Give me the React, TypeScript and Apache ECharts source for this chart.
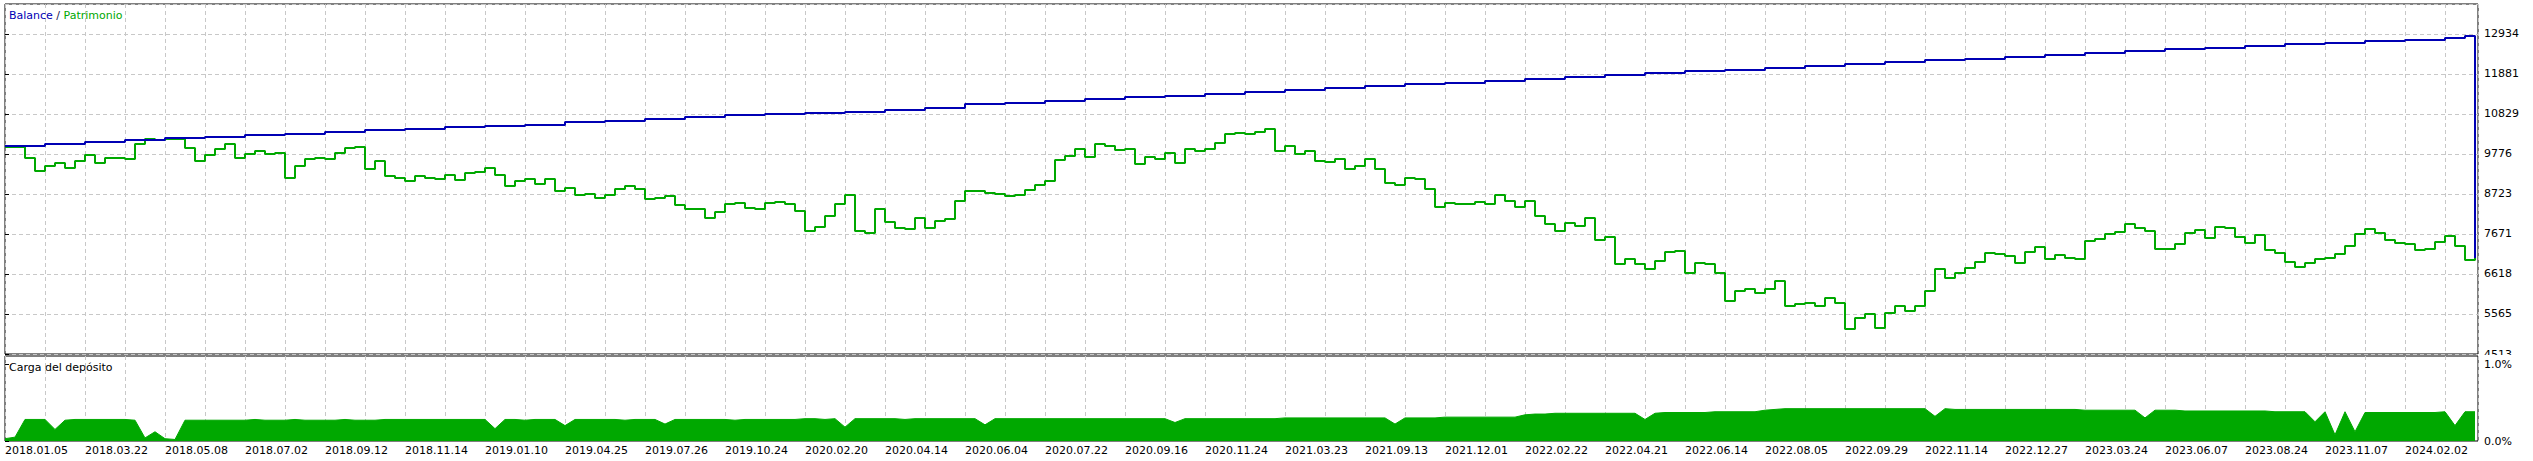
import React, { useEffect, useRef } from "react";
import * as echarts from "echarts";

// X tick labels (one every 8 samples)
const dateLabels = [
  "2018.01.05", "2018.03.22", "2018.05.08", "2018.07.02", "2018.09.12", "2018.11.14",
  "2019.01.10", "2019.04.25", "2019.07.26", "2019.10.24", "2020.02.20", "2020.04.14",
  "2020.06.04", "2020.07.22", "2020.09.16", "2020.11.24", "2021.03.23", "2021.09.13",
  "2021.12.01", "2022.02.22", "2022.04.21", "2022.06.14", "2022.08.05", "2022.09.29",
  "2022.11.14", "2022.12.27", "2023.03.24", "2023.06.07", "2023.08.24", "2023.11.07",
  "2024.02.02",
];

// Right axis ticks of the main panel
const yTickStart = 4512.75;
const yTickStep = 1052.625;
const yAxisMax = 13723.2;

// Equity (Patrimonio), one sample per position
const equity = [
  9960, 9960, 9671, 9329, 9460, 9539, 9408, 9592, 9750, 9539, 9671, 9671, 9644, 10039, 10171, 10144, 10171, 10171, 9934, 9592, 9750, 9907, 10039, 9671, 9776, 9855, 9776, 9802, 9144, 9460, 9644,
  9671, 9644, 9802, 9934, 9960, 9381, 9592, 9197, 9144, 9065, 9197, 9144, 9118, 9223, 9092, 9276, 9302, 9408, 9223, 8934, 9065, 9118, 8987, 9118, 8802, 8881, 8697, 8723, 8618, 8697, 8855,
  8934, 8855, 8592, 8618, 8671, 8434, 8329, 8329, 8092, 8250, 8460, 8487, 8355, 8329, 8487, 8513, 8460, 8276, 7750, 7855, 8144, 8460, 8697, 7750, 7697, 8329, 7986, 7829, 7802, 8092, 7829,
  8013, 8065, 8539, 8802, 8802, 8750, 8723, 8671, 8697, 8829, 8960, 9065, 9618, 9723, 9907, 9697, 10039, 9986, 9881, 9907, 9513, 9697, 9644, 9802, 9539, 9907, 9855, 9907, 10065, 10302, 10329,
  10302, 10355, 10434, 9855, 9986, 9776, 9855, 9592, 9565, 9644, 9381, 9460, 9644, 9381, 9013, 8960, 9144, 9118, 8855, 8381, 8487, 8460, 8460, 8513, 8460, 8697, 8539, 8381, 8539, 8144, 7934,
  7750, 7960, 7881, 8092, 7513, 7592, 6881, 7013, 6881, 6750, 6960, 7197, 7223, 6644, 6907, 6881, 6644, 5907, 6170, 6223, 6118, 6223, 6434, 5776, 5828, 5855, 5776, 5986, 5855, 5170, 5460,
  5565, 5197, 5592, 5776, 5644, 5776, 6170, 6750, 6513, 6644, 6776, 6934, 7171, 7144, 7092, 6907, 7197, 7329, 7013, 7118, 7039, 7013, 7487, 7539, 7671, 7723, 7934, 7829, 7750, 7276, 7276,
  7407, 7697, 7776, 7565, 7855, 7829, 7592, 7434, 7644, 7250, 7171, 6934, 6802, 6907, 7013, 7039, 7144, 7355, 7671, 7802, 7697, 7513, 7434, 7407, 7250, 7276, 7460, 7618, 7355, 6986, 7039,
];

// Balance, read at sample positions listed in balancePos
const balancePos = [
  0, 4, 8, 12, 16, 20, 24, 28, 32, 36, 40, 44, 48, 52, 56, 60, 64, 68, 72, 76, 80, 84, 88, 92, 96, 100,
  104, 108, 112, 116, 120, 124, 128, 132, 136, 140, 144, 148, 152, 156, 160, 164, 168, 172, 176, 180,
  184, 188, 192, 196, 200, 204, 208, 212, 216, 220, 224, 228, 232, 236, 240, 244, 246, 247,
];
const balance = [
  9986, 10039, 10092, 10144, 10197, 10223, 10276, 10302, 10355, 10407, 10434, 10486, 10513, 10539, 10618, 10644,
  10697, 10750, 10802, 10828, 10855, 10881, 10934, 10986, 11092, 11118, 11171, 11223, 11276, 11302, 11355, 11407,
  11460, 11513, 11565, 11618, 11644, 11697, 11750, 11802, 11855, 11907, 11960, 11986, 12039, 12092, 12144, 12197,
  12250, 12276, 12328, 12381, 12434, 12486, 12539, 12565, 12618, 12671, 12697, 12750, 12776, 12828, 12881, 7039,
];

// Deposit load (%)
const loadPct = [
  0.03, 0.05, 0.28, 0.28, 0.28, 0.15, 0.27, 0.28, 0.28, 0.28, 0.28, 0.28, 0.28, 0.27, 0.04, 0.12, 0.03, 0.02,
  0.27, 0.27, 0.27, 0.27, 0.27, 0.27, 0.27, 0.28, 0.27, 0.27, 0.27, 0.28, 0.27, 0.27, 0.27, 0.27, 0.28, 0.27, 0.27, 0.27, 0.28, 0.28, 0.28, 0.28, 0.28, 0.28, 0.28, 0.28, 0.28, 0.28,
  0.28, 0.16, 0.28, 0.28, 0.27, 0.28, 0.28, 0.28, 0.20, 0.28, 0.28, 0.28, 0.28, 0.28, 0.27, 0.28, 0.28, 0.28, 0.22, 0.28, 0.28, 0.28, 0.28, 0.28, 0.28, 0.27, 0.28, 0.28, 0.28, 0.28, 0.28, 0.28,
  0.29, 0.29, 0.28, 0.29, 0.18, 0.29, 0.29, 0.29, 0.29, 0.29, 0.28, 0.29, 0.29, 0.29, 0.29, 0.29, 0.29, 0.29, 0.21, 0.29, 0.29, 0.29, 0.29, 0.29, 0.29, 0.29, 0.29, 0.29, 0.29, 0.29, 0.29, 0.29, 0.29, 0.29, 0.29, 0.29, 0.29, 0.24, 0.29, 0.29, 0.29, 0.29, 0.29, 0.29, 0.29, 0.29, 0.29, 0.29,
  0.30, 0.30, 0.30, 0.30, 0.30, 0.30, 0.30, 0.30, 0.30, 0.30, 0.30, 0.22, 0.30, 0.30, 0.30, 0.30, 0.31, 0.31, 0.31, 0.31, 0.31, 0.31, 0.31, 0.31,
  0.34, 0.35, 0.35, 0.36, 0.36, 0.36, 0.36, 0.36, 0.36, 0.36, 0.36, 0.36, 0.28, 0.36, 0.37, 0.37, 0.37, 0.37, 0.37, 0.38, 0.38, 0.38, 0.38, 0.38,
  0.40, 0.41, 0.42, 0.42, 0.42, 0.42, 0.42, 0.42, 0.42, 0.42, 0.42, 0.42, 0.42, 0.42, 0.42, 0.42, 0.42, 0.32, 0.42, 0.41, 0.41, 0.41, 0.41, 0.41, 0.41, 0.41, 0.41, 0.41, 0.41, 0.41, 0.41, 0.41,
  0.40, 0.40, 0.40, 0.40, 0.40, 0.40, 0.30, 0.40, 0.40, 0.40, 0.39, 0.39, 0.39, 0.39, 0.39, 0.39, 0.39, 0.39, 0.39, 0.38, 0.38, 0.38, 0.38, 0.25, 0.38, 0.08, 0.38, 0.12, 0.37, 0.37, 0.37, 0.37,
  0.37, 0.37, 0.37, 0.37, 0.38, 0.20, 0.38, 0.38,
];

const FONT = "DejaVu Sans";
const GREEN = "#00A800";
const BLUE = "#0000B4";
const GRID_LINE = { color: "#c8c8c8", type: [4, 3] as number[], width: 1 };

export default function App() {
  const ref = useRef<HTMLDivElement>(null);

  useEffect(() => {
    document.body.style.margin = "0";
    const chart = echarts.init(ref.current!, null, { renderer: "svg" });
    const xMax = 247.3;

    const xBase = (gridIndex: number, showLabels: boolean) => ({
      type: "value",
      gridIndex,
      min: 0,
      max: xMax,
      interval: 4,
      axisLine: { show: false },
      axisTick: { show: false },
      splitLine: { show: true, lineStyle: GRID_LINE },
      axisLabel: {
        show: showLabels,
        showMaxLabel: false,
        align: "left",
        margin: 4,
        color: "#000",
        fontSize: 11,
        fontFamily: FONT,
        formatter: (v: number) => (v % 8 === 0 && dateLabels[v / 8] ? dateLabels[v / 8] : ""),
      },
    });

    chart.setOption({
      animation: false,
      backgroundColor: "#fff",
      grid: [
        { left: 5, top: 4, width: 2473, height: 350, show: true, borderColor: "#000", borderWidth: 1 },
        { left: 5, top: 356, width: 2473, height: 85, show: true, borderColor: "#000", borderWidth: 1 },
      ],
      xAxis: [xBase(0, false), xBase(1, true)],
      yAxis: [
        {
          type: "value",
          gridIndex: 0,
          position: "right",
          min: yTickStart,
          max: yAxisMax,
          interval: yTickStep,
          axisLine: { show: false },
          axisTick: { show: true, length: 4, lineStyle: { color: "#000" } },
          splitLine: { show: true, lineStyle: GRID_LINE },
          axisLabel: {
            showMaxLabel: false,
            margin: 6,
            color: "#000",
            fontSize: 11,
            fontFamily: FONT,
            formatter: (v: number) => String(Math.round(v)),
          },
        },
        {
          type: "value",
          gridIndex: 1,
          position: "right",
          min: 0,
          max: 85 / 77,
          interval: 1,
          axisLine: { show: false },
          axisTick: { show: true, length: 4, lineStyle: { color: "#000" } },
          splitLine: { show: false },
          axisLabel: {
            showMaxLabel: false,
            margin: 6,
            color: "#000",
            fontSize: 11,
            fontFamily: FONT,
            formatter: (v: number) => v.toFixed(1) + "%",
          },
        },
      ],
      series: [
        {
          name: "Patrimonio",
          type: "line",
          xAxisIndex: 0,
          yAxisIndex: 0,
          step: "end",
          symbol: "none",
          data: equity.map((v, i) => [i, v]),
          lineStyle: { color: GREEN, width: 2 },
          itemStyle: { color: GREEN },
          z: 2,
        },
        {
          name: "Balance",
          type: "line",
          xAxisIndex: 0,
          yAxisIndex: 0,
          step: "end",
          symbol: "none",
          data: balance.map((v, i) => [balancePos[i], v]),
          lineStyle: { color: BLUE, width: 2 },
          itemStyle: { color: BLUE },
          z: 3,
        },
        {
          name: "Carga del depósito",
          type: "line",
          xAxisIndex: 1,
          yAxisIndex: 1,
          symbol: "none",
          data: loadPct.map((v, i) => [i, v]),
          lineStyle: { color: GREEN, width: 1 },
          itemStyle: { color: GREEN },
          areaStyle: { color: GREEN, opacity: 1 },
        },
      ],
      graphic: [
        {
          type: "rect",
          z: 100,
          shape: { x: 2479, y: 355, width: 54, height: 3 },
          style: { fill: "#fff" },
        },
        {
          type: "text",
          z: 100,
          x: 9,
          y: 15,
          style: {
            text: "{a|Balance} {s|/} {b|Patrimonio}",
            verticalAlign: "middle",
            fontSize: 11,
            fontFamily: FONT,
            rich: {
              a: { fill: BLUE, color: BLUE, fontSize: 11, fontFamily: FONT },
              s: { fill: "#202050", color: "#202050", fontSize: 11, fontFamily: FONT },
              b: { fill: GREEN, color: GREEN, fontSize: 11, fontFamily: FONT },
            },
          },
        },
        {
          type: "text",
          z: 100,
          x: 9,
          y: 367,
          style: {
            text: "Carga del depósito",
            verticalAlign: "middle",
            fill: "#000",
            fontSize: 11,
            fontFamily: FONT,
          },
        },
      ],
    });

    return () => chart.dispose();
  }, []);

  return (
    <div
      ref={ref}
      style={{ position: "absolute", left: 0, top: 0, width: 2533, height: 461, background: "#fff" }}
    />
  );
}
